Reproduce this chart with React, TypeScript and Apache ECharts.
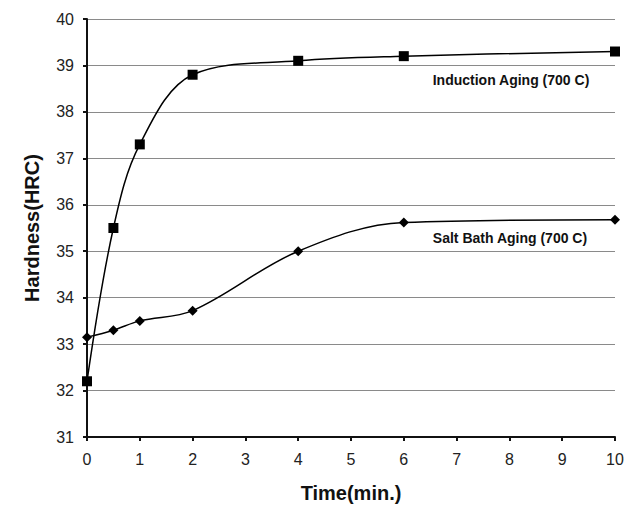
import React, { useEffect, useRef } from "react";
import * as echarts from "echarts";

const times = [0, 0.5, 1, 2, 4, 6, 10];
const inductionHardness = [32.2, 35.5, 37.3, 38.8, 39.1, 39.2, 39.3];
const saltBathHardness = [33.15, 33.3, 33.5, 33.72, 35.0, 35.62, 35.68];
const inductionLabel = "Induction Aging (700 C)";
const saltBathLabel = "Salt Bath Aging (700 C)";
const xTitle = "Time(min.)";
const yTitle = "Hardness(HRC)";

const FONT = "Arial, 'Liberation Sans', Helvetica, sans-serif";

export default function App() {
  const ref = useRef<HTMLDivElement>(null);
  useEffect(() => {
    if (!ref.current) return;
    const chart = echarts.init(ref.current, undefined, { renderer: "svg" });
    const toPairs = (ys: number[]) => times.map((t, i) => [t, ys[i]]);
    chart.setOption({
      animation: false,
      backgroundColor: "#ffffff",
      grid: { left: 87, right: 21, top: 19, bottom: 70, containLabel: false },
      xAxis: {
        type: "value",
        min: 0,
        max: 10,
        interval: 1,
        name: xTitle,
        nameLocation: "middle",
        nameGap: 46,
        nameTextStyle: { fontFamily: FONT, fontSize: 20, fontWeight: "bold", color: "#111" },
        axisLine: { show: true, lineStyle: { color: "#111", width: 2 } },
        axisTick: { show: true, inside: false, length: 4, lineStyle: { color: "#111", width: 2 } },
        axisLabel: { fontFamily: FONT, fontSize: 16, color: "#222", margin: 14 },
        splitLine: { show: false },
      },
      yAxis: {
        type: "value",
        min: 31,
        max: 40,
        interval: 1,
        name: yTitle,
        nameLocation: "middle",
        nameGap: 45,
        nameTextStyle: { fontFamily: FONT, fontSize: 20, fontWeight: "bold", color: "#111" },
        axisLine: { show: true, lineStyle: { color: "#111", width: 2 } },
        axisTick: { show: true, inside: false, length: 4, lineStyle: { color: "#111", width: 2 } },
        axisLabel: { fontFamily: FONT, fontSize: 16, color: "#222", margin: 13 },
        splitLine: { show: true, lineStyle: { color: "#8a8a8a", width: 1 } },
      },
      series: [
        {
          name: inductionLabel,
          type: "line",
          data: toPairs(inductionHardness),
          smooth: 0.35,
          symbol: "rect",
          symbolSize: 10,
          lineStyle: { color: "#000", width: 1.5 },
          itemStyle: { color: "#000" },
          z: 3,
        },
        {
          name: saltBathLabel,
          type: "line",
          data: toPairs(saltBathHardness),
          smooth: 0.35,
          symbol: "diamond",
          symbolSize: 10,
          lineStyle: { color: "#000", width: 1.5 },
          itemStyle: { color: "#000" },
          z: 3,
        },
      ],
      graphic: [
        {
          type: "text",
          x: 511,
          y: 80,
          style: {
            text: inductionLabel,
            fontFamily: FONT,
            fontSize: 14,
            fontWeight: "bold",
            fill: "#111",
            textAlign: "center",
            textVerticalAlign: "middle",
          },
        },
        {
          type: "text",
          x: 510,
          y: 238,
          style: {
            text: saltBathLabel,
            fontFamily: FONT,
            fontSize: 14,
            fontWeight: "bold",
            fill: "#111",
            textAlign: "center",
            textVerticalAlign: "middle",
          },
        },
      ],
    });
    return () => chart.dispose();
  }, []);
  return (
    <div
      ref={ref}
      style={{ position: "fixed", left: 0, top: 0, width: 636, height: 508, background: "#fff" }}
    />
  );
}
